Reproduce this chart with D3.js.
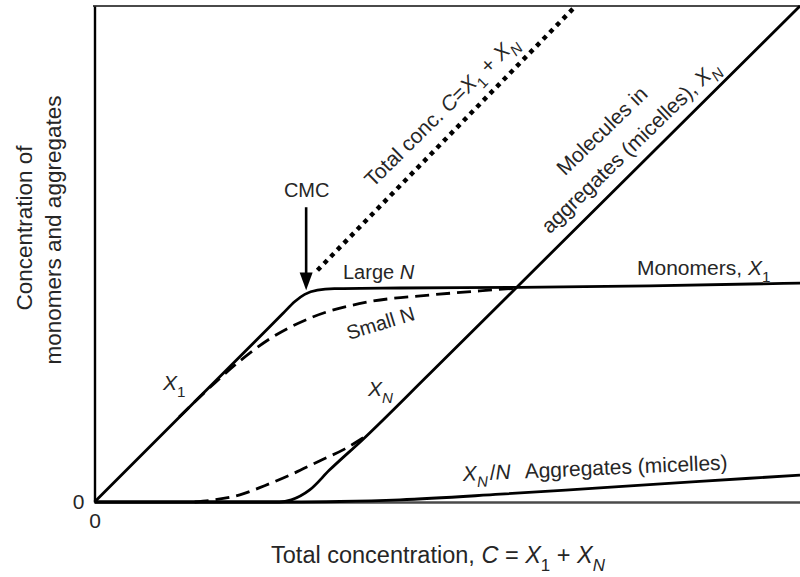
<!DOCTYPE html>
<html>
<head>
<meta charset="utf-8">
<script src="https://cdn.jsdelivr.net/npm/d3@7"></script>
<style>
  body { margin: 0; background: #fff; }
  svg { display: block; font-family: "Liberation Sans", Arial, Helvetica, sans-serif; }
</style>
</head>
<body>
<svg id="chart" width="800" height="577"></svg>
<script>
// Schematic concentrations (arbitrary units) against total concentration C.
// Each series is a list of [C, concentration] points.
const monomersLargeN = [[0, 0], [2.48, 2.47], [2.67, 2.66], [2.84, 2.83], [2.98, 2.93], [3.16, 2.99],
  [3.4, 3.01], [4.33, 3.02], [6.03, 3.03], [7.87, 3.05], [10, 3.09]];
const monomersSmallN = [[1.2, 1.2], [1.49, 1.48], [2.06, 1.99], [2.48, 2.3], [3.09, 2.61], [3.86, 2.82],
  [4.75, 2.92], [5.46, 2.98], [6.03, 3.02]];
const aggregatedLargeN = [[0, 0], [2.62, 0], [2.79, 0.03], [3.05, 0.17], [3.33, 0.45], [3.8, 0.88],
  [4.75, 1.81], [10, 7]];
const aggregatedSmallN = [[1.42, 0], [1.7, 0.03], [2.06, 0.1], [2.41, 0.23], [2.77, 0.38], [3.19, 0.58],
  [3.55, 0.75], [3.83, 0.92]];
const micelles = [[0, 0], [2.77, 0], [3.48, 0.007], [4.33, 0.03], [5.75, 0.11], [7.16, 0.2],
  [8.58, 0.29], [10, 0.38]];
const totalConc = [[3.16, 3.27], [6.82, 7]];
const cmc = 3.0;
const xTicks = [0];
const yTicks = [0];

const svg = d3.select("#chart");
const x = d3.scaleLinear().domain([0, 10]).range([94.5, 800]);
const y = d3.scaleLinear().domain([0, 7]).range([502, 6]);

const FS = 21;
const textColor = "#262626";

// frame: top rule, then the two axes
svg.append("line")
  .attr("x1", x(0) - 1.5).attr("x2", x(10))
  .attr("y1", y(7)).attr("y2", y(7))
  .attr("stroke", "#4a4a4a").attr("stroke-width", 2);

const xAxis = svg.append("g")
  .attr("transform", `translate(0,${y(0)})`)
  .call(d3.axisBottom(x).tickValues(xTicks).tickSize(0).tickSizeOuter(0).tickPadding(11).tickFormat(d3.format("d")));
xAxis.select(".domain").attr("stroke", "#4a4a4a").attr("stroke-width", 2.4);

const yAxis = svg.append("g")
  .attr("transform", `translate(${x(0)},0)`)
  .call(d3.axisLeft(y).tickValues(yTicks).tickSize(0).tickSizeOuter(0).tickPadding(10).tickFormat(d3.format("d")));
yAxis.select(".domain").attr("stroke", "#000").attr("stroke-width", 2.4);

svg.selectAll(".tick text")
  .attr("font-size", FS).attr("fill", textColor)
  .attr("font-family", "'Liberation Sans', Arial, sans-serif");

// curves
const line = d3.line().x(d => x(d[0])).y(d => y(d[1])).curve(d3.curveMonotoneX);
const curves = svg.append("g").attr("fill", "none").attr("stroke", "#000");

curves.append("path").datum(micelles).attr("d", line).attr("stroke-width", 2.8);
curves.append("path").datum(aggregatedLargeN).attr("d", line).attr("stroke-width", 2.8);
curves.append("path").datum(monomersLargeN).attr("d", line).attr("stroke-width", 2.8);
curves.append("path").datum(monomersSmallN).attr("d", line)
  .attr("stroke-width", 2.8).attr("stroke-dasharray", "14,7");
curves.append("path").datum(aggregatedSmallN).attr("d", line)
  .attr("stroke-width", 2.8).attr("stroke-dasharray", "14,7");
curves.append("path").datum(totalConc).attr("d", d3.line().x(d => x(d[0])).y(d => y(d[1])))
  .attr("stroke-width", 4.5).attr("stroke-dasharray", "4.5,5");

// CMC arrow
const ax = x(cmc);
svg.append("line")
  .attr("x1", ax).attr("x2", ax)
  .attr("y1", y(4.16)).attr("y2", y(3.2))
  .attr("stroke", "#000").attr("stroke-width", 2.6);
svg.append("path")
  .attr("d", `M${ax - 6.5},${y(3.24)} L${ax + 6.5},${y(3.24)} L${ax},${y(2.99)} Z`)
  .attr("fill", "#000");

// text with italic runs and subscripts
function rich(sel, parts, fs) {
  let shift = 0;
  parts.forEach(p => {
    const ts = sel.append("tspan").text(p.t);
    if (p.i) ts.attr("font-style", "italic");
    const target = p.sub ? fs * 0.32 : 0;
    if (target !== shift) { ts.attr("dy", target - shift); shift = target; }
    if (p.sub) ts.attr("font-size", fs * 0.72);
    if (p.dx) ts.attr("dx", p.dx);
  });
  return sel;
}

function label(px, py, parts, opts = {}) {
  const fs = opts.fs || FS;
  const t = svg.append("text")
    .attr("transform", `translate(${px},${py}) rotate(${opts.rot || 0})`)
    .attr("font-size", fs)
    .attr("fill", textColor)
    .attr("text-anchor", opts.anchor || "start");
  return rich(t, parts, fs);
}

label(ax + 0.5, 197, [{ t: "CMC" }], { anchor: "middle", fs: 20 });
label(343, 279, [{ t: "Large " }, { t: "N", i: true }], { fs: 20 });
label(349, 340, [{ t: "Small N" }], { fs: 20, rot: -17 });
label(163, 390, [{ t: "X", i: true }, { t: "1", sub: true }]);
label(368, 396, [{ t: "X", i: true }, { t: "N", i: true, sub: true }]);
label(463, 481, [{ t: "X", i: true }, { t: "N", i: true, sub: true }, { t: "/", dx: 2 }, { t: "N", i: true },
  { t: "Aggregates (micelles)", dx: 14 }], { rot: -2.5 });
label(637, 275, [{ t: "Monomers, " }, { t: "X", i: true }, { t: "1", sub: true }]);

label(607, 136, [{ t: "Molecules in" }], { anchor: "middle", rot: -44 });
label(635, 152, [{ t: "aggregates (micelles), " }, { t: "X", i: true }, { t: "N", i: true, sub: true }],
  { anchor: "middle", rot: -44 });

label(373, 188, [{ t: "Total conc. " }, { t: "C", i: true }, { t: "=" }, { t: "X", i: true }, { t: "1", sub: true },
  { t: " + " }, { t: "X", i: true }, { t: "N", i: true, sub: true }], { rot: -44.5 });

// axis titles
label(438, 563, [{ t: "Total concentration, " }, { t: "C", i: true }, { t: " = " }, { t: "X", i: true },
  { t: "1", sub: true }, { t: " + " }, { t: "X", i: true }, { t: "N", i: true, sub: true }],
  { anchor: "middle", fs: 23.5 });
label(32, 228, [{ t: "Concentration of" }], { anchor: "middle", rot: -90, fs: 22.5 });
label(61, 230, [{ t: "monomers and aggregates" }], { anchor: "middle", rot: -90, fs: 22.5 });
</script>
</body>
</html>
